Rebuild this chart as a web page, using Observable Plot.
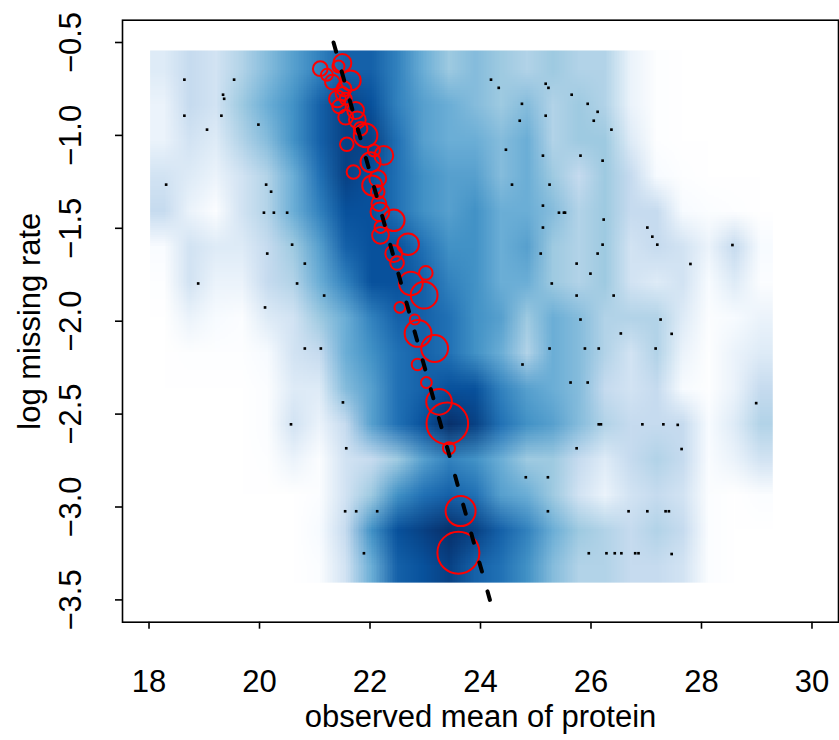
<!DOCTYPE html>
<html><head><meta charset="utf-8">
<script src="https://cdn.jsdelivr.net/npm/d3@7"></script>
<script src="https://cdn.jsdelivr.net/npm/@observablehq/plot@0.6"></script>
<style>body{margin:0;background:#fff;} svg{display:block;}</style>
</head><body><div id="chart"></div>
<script>
const xTicks = [18, 20, 22, 24, 26, 28, 30];
const yTicks = [-0.5, -1.0, -1.5, -2.0, -2.5, -3.0, -3.5];
const xTitle = "observed mean of protein";
const yTitle = "log missing rate";

// smoothed density (0 = white ... 9 = darkest blue)
const densityExtentX = [18.02, 29.29];
const densityExtentY = [-0.543, -3.407];
const densityRows = [
  [2, 3, 2.5, 3.5, 4.5, 5.5, 6.5, 7.5, 7.5, 6.5, 5, 4, 4.5, 4, 3.5, 4, 3.5, 3.5, 1.5, 0.3, 0, 0, 0, 0],
  [1.5, 3, 2.5, 4, 5, 6, 7.5, 8.5, 8, 6.5, 5.5, 5, 4.5, 4, 4.5, 3.5, 4, 3.5, 1.5, 0.2, 0, 0, 0, 0],
  [1.5, 2.5, 2, 3.5, 4.5, 6, 7.5, 8.5, 8.5, 7, 5.5, 5, 5, 4.5, 5, 3.5, 4, 4, 2, 0.3, 0, 0, 0, 0],
  [2.5, 2, 1.5, 2.5, 3.5, 5, 7, 8.5, 8, 7, 6, 5.5, 5.5, 4.5, 5, 4, 3, 4, 3, 1, 0.3, 0, 0, 0],
  [3, 1.5, 0.5, 2.5, 3.5, 5, 6.5, 8, 8, 7, 6, 5.5, 6, 5, 5, 4.5, 3.5, 4, 3, 3, 1, 0.5, 0.3, 0],
  [0.8, 2.5, 2, 2, 3, 4, 5.5, 7.5, 8, 8, 7, 6, 6, 5, 5.5, 4, 3.5, 4, 2.5, 3, 2.5, 1.5, 3, 1],
  [0.3, 2.5, 1.5, 1.5, 3, 3.5, 5, 6.5, 8, 8, 7.5, 6.5, 6, 5, 5, 4, 3.5, 4, 2.5, 2, 2.5, 1, 2, 0.5],
  [0, 1.5, 1, 0.5, 2, 2.5, 4, 5, 6.5, 7.5, 7.5, 7, 6, 5.5, 4, 5, 4.5, 3.5, 3.5, 3.5, 2, 0.5, 1, 1.5],
  [0, 0.2, 0.2, 0.3, 1, 2.5, 3, 5, 6, 7, 7.5, 7, 6, 5, 3.5, 5, 4.5, 3.5, 2.5, 3.5, 1.5, 0.3, 1.5, 2],
  [0, 0, 0, 0, 0.5, 2, 2, 4.5, 5.5, 7, 7.5, 8, 8, 6.5, 5.5, 5, 4.5, 3, 2.5, 3, 1, 0.2, 1.5, 3],
  [0, 0, 0, 0, 0.5, 2.5, 1.5, 3, 5.5, 7, 8, 9, 8.5, 7, 6, 5.5, 4.5, 3.5, 3, 3, 3, 1, 2, 3.5],
  [0, 0, 0, 0, 0.3, 1.5, 0.5, 2.5, 3, 4, 5.5, 6.5, 6, 5, 4, 4, 3, 2, 3, 3.5, 3, 0.8, 1.5, 2.5],
  [0, 0, 0, 0, 0, 0, 0.5, 2.5, 4, 6, 7, 7.5, 7, 5.5, 5, 4, 2.5, 1.5, 2.5, 3, 2.5, 0.5, 0, 0.5],
  [0, 0, 0, 0, 0, 0, 1, 3, 6, 8, 8.5, 9, 8.5, 7.5, 6.5, 5, 4, 3.5, 3, 3.5, 3, 0.5, 0, 0],
  [0, 0, 0, 0, 0, 0, 0.5, 2.5, 5, 7.5, 8, 8.5, 7.5, 7, 6, 4.5, 3.5, 3.5, 3, 3, 2.5, 0.5, 0, 0]
];
const densityColors = ["#FFFFFF","#F7FBFF","#DEEBF7","#C6DBEF","#9ECAE1","#6BAED6","#4292C6","#2171B5","#08519C","#08306B"];

// low-density single points
const dotX = [18.64,19.54,19.34,19.36,18.64,19.31,19.05,19.98,18.31,20.12,20.21,20.08,20.26,20.50,20.59,20.14,20.82,18.89,20.68,21.17,20.10,
  20.82,21.11,21.51,20.57,21.57,21.55,21.75,22.13,21.89,
  24.19,24.33,25.18,25.23,25.65,24.75,25.94,26.12,25.18,24.71,26.05,26.37,24.46,25.13,25.81,26.21,24.57,25.25,25.13,25.42,25.51,25.53,
  26.23,25.13,27.02,27.11,27.20,26.21,25.09,26.12,25.74,25.99,25.29,25.74,26.41,25.81,27.26,
  26.54,25.25,25.89,26.14,27.17,24.76,25.63,25.94,26.14,26.18,26.93,27.31,25.74,24.82,25.22,25.22,26.68,27.02,27.35,27.41,
  25.96,26.28,26.43,26.55,26.80,26.86,
  27.80,28.56,27.46,28.99,27.57,27.64,27.46];
const dotY = [-0.70,-0.70,-0.781,-0.803,-0.894,-0.894,-0.969,-0.942,-1.265,-1.265,-1.303,-1.416,-1.416,-1.416,-1.588,-1.636,-1.690,-1.797,-1.797,-1.862,-1.926,
  -2.147,-2.147,-2.437,-2.555,-2.684,-3.023,-3.023,-3.023,-3.249,
  -0.70,-0.744,-0.722,-0.744,-0.781,-0.830,-0.830,-0.873,-0.894,-0.921,-0.921,-0.969,-1.077,-1.109,-1.109,-1.136,-1.265,-1.265,-1.378,-1.416,-1.416,-1.416,
  -1.453,-1.496,-1.496,-1.545,-1.588,-1.588,-1.636,-1.636,-1.690,-1.744,-1.797,-1.862,-1.862,-1.991,-1.991,
  -2.066,-2.147,-2.147,-2.147,-2.147,-2.233,-2.330,-2.330,-2.555,-2.555,-2.555,-2.555,-2.684,-2.840,-2.840,-3.023,-3.023,-3.023,-3.023,-3.023,
  -3.249,-3.249,-3.249,-3.249,-3.249,-3.249,
  -1.692,-1.590,-2.068,-2.441,-2.558,-2.688,-3.253];

// red circles (binned means) and their relative sizes
const circleX = [21.10,21.22,21.50,21.43,21.32,21.65,21.53,21.41,21.50,21.44,21.56,21.74,21.56,21.77,21.83,21.92,21.58,22.07,22.25,22.01,21.70,22.14,22.04,22.14,22.16,22.18,22.43,22.19,22.19,22.43,22.69,22.49,22.74,23.01,22.98,22.54,22.81,22.87,23.17,22.86,23.02,23.25,23.40,23.43,23.64,23.60];
const circleY = [-0.641,-0.674,-0.611,-0.629,-0.713,-0.704,-0.749,-0.803,-0.776,-0.844,-0.803,-0.866,-0.902,-0.916,-0.964,-1.000,-1.048,-1.081,-1.108,-1.144,-1.197,-1.233,-1.269,-1.305,-1.367,-1.412,-1.457,-1.493,-1.538,-1.636,-1.586,-1.687,-1.797,-1.740,-1.860,-1.926,-1.991,-2.066,-2.147,-2.233,-2.330,-2.434,-2.550,-2.684,-3.022,-3.246];
const circleSize = [3.7,3,4.5,3,3.7,5,3.7,4.2,3.4,3.4,3,4.2,3.7,4.2,3.4,5.9,3.4,3,4.7,5,3.4,4.2,5,3.4,3.7,4.7,5.4,3,4.2,4.2,5.4,3.4,5.9,3.4,6.7,2.7,2.5,6.7,6.7,2.9,2.7,6.4,10.4,3,7.5,10.5];

// fitted trend line
const fitX = [21.34, 24.17];
const fitY = [-0.5, -3.5];

const dots = dotX.map((x, i) => ({x, y: dotY[i]}));
const circles = circleX.map((x, i) => ({x, y: circleY[i], s: circleSize[i]}));
const fit = fitX.map((x, i) => ({x, y: fitY[i]}));
const fmtY = d => (d < 0 ? "\u2212" : "") + Math.abs(d).toFixed(1);
const W = densityRows[0].length, H = densityRows.length;
const FS = 31;

const plot = Plot.plot({
  width: 839, height: 740,
  marginLeft: 122, marginRight: 1, marginTop: 19.7, marginBottom: 118.3,
  x: {domain: [17.52, 30.48]},
  y: {domain: [-3.62, -0.38]},
  color: {type: "linear", domain: d3.range(10), range: densityColors, clamp: true},
  r: {type: "linear", domain: [0, 10], range: [0, 20]},
  style: {fontFamily: "'Liberation Sans', Arial, Helvetica, sans-serif", background: "white", color: "black"},
  marks: [
    Plot.raster(densityRows.flat(), {width: W, height: H,
      x1: densityExtentX[0], x2: densityExtentX[1], y1: densityExtentY[0], y2: densityExtentY[1],
      fill: d => d}),
    Plot.dot(dots, {x: "x", y: "y", symbol: "square", r: 1.5, fill: "black", stroke: "none"}),
    Plot.dot(circles, {x: "x", y: "y", r: "s", stroke: "#FF0000", strokeWidth: 2, fill: "none"}),
    Plot.line(fit, {x: "x", y: "y", stroke: "black", strokeWidth: 4, strokeDasharray: "9.5 20.5", strokeLinecap: "round"}),
    Plot.frame({stroke: "black", strokeWidth: 1.6}),
    Plot.axisX({ticks: xTicks, tickSize: 7, tickFormat: () => "", label: null, strokeWidth: 1.6}),
    Plot.axisY({ticks: yTicks, tickSize: 7, tickFormat: () => "", label: null, strokeWidth: 1.6}),
    Plot.text(xTicks, {x: d => d, frameAnchor: "bottom", dy: 59.4, text: d => String(d), fontSize: FS,
      textAnchor: "middle", lineAnchor: "middle"}),
    Plot.text(yTicks, {y: d => d, frameAnchor: "left", dx: -51.9, rotate: -90, text: fmtY, fontSize: FS,
      textAnchor: "middle", lineAnchor: "middle"}),
    Plot.text([xTitle], {frameAnchor: "bottom", dy: 95, text: d => d, fontSize: FS,
      textAnchor: "middle", lineAnchor: "middle"}),
    Plot.text([yTitle], {frameAnchor: "left", dx: -92, rotate: -90, text: d => d, fontSize: FS,
      textAnchor: "middle", lineAnchor: "middle"})
  ]
});
document.getElementById("chart").appendChild(plot);
</script>
</body></html>
